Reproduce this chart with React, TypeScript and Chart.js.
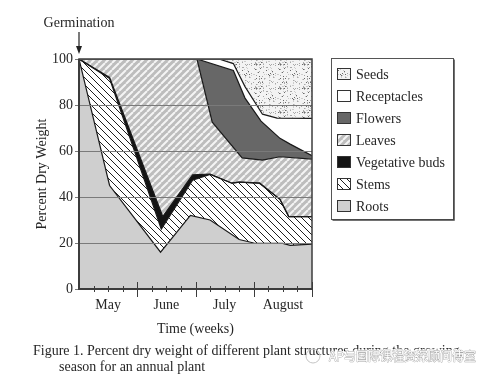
import React, { useEffect, useRef } from 'react';
import { Chart, registerables } from 'chart.js';

Chart.register(...registerables);

// ---- data ----
const monthLabels = ['May', 'June', 'July', 'August'];
const monthTickWeeks = [2, 6, 10, 14];
const yTickStep = 20;

const rootsWeeks = [0, 2.1, 5.6, 7.65, 9.0, 11.0, 12.0, 14.0, 14.5, 16];
const rootsTop = [100, 45, 16, 32, 30, 21.5, 20, 19.8, 19, 19.5];

const stemsWeeks = [0, 2.1, 5.65, 7.8, 9.0, 10.5, 11.0, 12.4, 13.8, 14.4, 16];
const stemsTop = [100, 91.5, 26, 47.3, 49.8, 46, 46.5, 46, 39, 31.5, 31.5];

const budsWeeks = [0, 2.1, 5.75, 7.8, 9.0, 10.5, 11.0, 12.4, 13.8, 14.4, 16];
const budsTop = [100, 92, 31.5, 49.6, 50, 46, 46.5, 46, 39, 31.5, 31.5];

const leavesWeeks = [0, 8.1, 9.15, 11.2, 12.6, 13.8, 16];
const leavesTop = [100, 100, 72.5, 57, 56, 57.5, 56.5];

const flowersWeeks = [8.1, 10.6, 11.4, 12.5, 13.8, 14.5, 16];
const flowersTop = [100, 95, 83, 73, 65.5, 63, 58];

const receptaclesWeeks = [8.1, 9.6, 10.6, 11.4, 12.6, 13.6, 16];
const receptaclesTop = [100, 100, 98, 88, 76, 74.3, 74.2];

const seedsWeeks = [9.6, 16];
const seedsTop = [100, 100];

const captionLines = [
  'Figure 1. Percent dry weight of different plant structures during the growing',
  'season for an annual plant',
];
const watermark = 'AP与国际课程资深顾问傅室';

const SERIF = "'Liberation Serif', 'Times New Roman', 'DejaVu Serif', serif";
const TEXT = '#262626';

function xy(ws: number[], vs: number[]) {
  return ws.map((w, i) => ({ x: w, y: vs[i] }));
}

function hatch(bg: string, fg: string, dir: string, size: number, lw: number) {
  const c = document.createElement('canvas');
  c.width = size;
  c.height = size;
  const g = c.getContext('2d')!;
  g.fillStyle = bg;
  g.fillRect(0, 0, size, size);
  g.strokeStyle = fg;
  g.lineWidth = lw;
  g.beginPath();
  for (const o of [-size, 0, size]) {
    if (dir === '/') {
      g.moveTo(o, size);
      g.lineTo(o + size, 0);
    } else {
      g.moveTo(o, 0);
      g.lineTo(o + size, size);
    }
  }
  g.stroke();
  return g.createPattern(c, 'repeat')!;
}

function stipple() {
  const size = 24;
  const c = document.createElement('canvas');
  c.width = size;
  c.height = size;
  const g = c.getContext('2d')!;
  g.fillStyle = '#f3f3f3';
  g.fillRect(0, 0, size, size);
  let s = 12345;
  const next = () => {
    s = (s * 1103515245 + 12345) % 2147483648;
    return s / 2147483648;
  };
  for (let i = 0; i < 110; i++) {
    const px = Math.floor(next() * size);
    const py = Math.floor(next() * size);
    const r = next();
    g.fillStyle = r < 0.25 ? '#6a6a6a' : r < 0.6 ? '#a8a8a8' : '#cccccc';
    g.fillRect(px, py, 1, 1);
  }
  return g.createPattern(c, 'repeat')!;
}

const decor = {
  id: 'decor',
  afterDraw(chart: any) {
    const { ctx, chartArea } = chart;
    const { left, top, right, bottom } = chartArea;
    const xs = chart.scales.x;
    ctx.save();

    // frame
    ctx.strokeStyle = '#3c3c3c';
    ctx.lineWidth = 1.5;
    ctx.strokeRect(left, top, right - left, bottom - top);
    ctx.lineWidth = 2;
    ctx.beginPath();
    ctx.moveTo(left, top);
    ctx.lineTo(left, bottom);
    ctx.lineTo(right, bottom);
    ctx.stroke();

    // week ticks
    ctx.lineWidth = 1;
    ctx.strokeStyle = '#3c3c3c';
    for (let w = 1; w <= 16; w++) {
      const x = Math.round(xs.getPixelForValue(w)) + 0.5;
      const major = w % 4 === 0;
      ctx.beginPath();
      ctx.moveTo(x, bottom - (major ? 7 : 3));
      ctx.lineTo(x, bottom + (major ? 8 : 3));
      ctx.stroke();
    }

    // Germination label + arrow
    const gx = xs.getPixelForValue(0);
    ctx.fillStyle = TEXT;
    ctx.font = `14px ${SERIF}`;
    ctx.textAlign = 'center';
    ctx.textBaseline = 'middle';
    ctx.fillText('Germination', gx, 23);
    ctx.strokeStyle = '#222';
    ctx.lineWidth = 1.2;
    ctx.beginPath();
    ctx.moveTo(gx, 32);
    ctx.lineTo(gx, 48);
    ctx.stroke();
    ctx.fillStyle = '#222';
    ctx.beginPath();
    ctx.moveTo(gx - 3, 46);
    ctx.lineTo(gx + 3, 46);
    ctx.lineTo(gx, 54);
    ctx.closePath();
    ctx.fill();

    // legend
    const bx = 331.5, by = 58.5, bw = 122, bh = 161;
    ctx.fillStyle = '#fff';
    ctx.fillRect(bx, by, bw, bh);
    ctx.strokeStyle = '#555';
    ctx.lineWidth = 1;
    ctx.strokeRect(bx, by, bw, bh);
    ctx.strokeStyle = '#444';
    ctx.lineWidth = 1.5;
    ctx.beginPath();
    ctx.moveTo(bx + bw + 0.5, by + 1);
    ctx.lineTo(bx + bw + 0.5, by + bh + 0.5);
    ctx.lineTo(bx + 1, by + bh + 0.5);
    ctx.stroke();
    const ds = chart.data.datasets.slice().reverse();
    ds.forEach((d: any, i: number) => {
      const cy = 74 + i * 22;
      ctx.fillStyle = d.backgroundColor;
      ctx.fillRect(337, cy - 6, 14, 12);
      ctx.strokeStyle = '#333';
      ctx.lineWidth = 1;
      ctx.strokeRect(337.5, cy - 5.5, 13, 11);
      ctx.fillStyle = TEXT;
      ctx.font = `14px ${SERIF}`;
      ctx.textAlign = 'left';
      ctx.textBaseline = 'middle';
      ctx.fillText(d.label, 356, cy + 1);
    });

    // caption
    ctx.fillStyle = TEXT;
    ctx.font = `14px ${SERIF}`;
    ctx.textAlign = 'left';
    ctx.textBaseline = 'middle';
    ctx.fillText(captionLines[0], 33, 351);
    ctx.fillText(captionLines[1], 59, 367);

    // watermark
    ctx.strokeStyle = '#c4c4c4';
    ctx.lineWidth = 1;
    ctx.beginPath();
    ctx.arc(313, 356, 7, 0, Math.PI * 2);
    ctx.stroke();
    ctx.font = `12px 'Noto Sans CJK SC', sans-serif`;
    ctx.textBaseline = 'middle';
    ctx.lineJoin = 'round';
    ctx.strokeStyle = 'rgba(255,255,255,0.9)';
    ctx.lineWidth = 3;
    ctx.strokeText(watermark, 329, 356);
    ctx.strokeStyle = '#a6a6a6';
    ctx.lineWidth = 0.8;
    ctx.strokeText(watermark, 329, 356);
    ctx.fillStyle = '#ffffff';
    ctx.fillText(watermark, 329, 356);

    ctx.restore();
  },
};

export default function App() {
  const ref = useRef<HTMLCanvasElement>(null);

  useEffect(() => {
    const canvas = ref.current!;
    const line = { borderColor: '#1a1a1a', borderWidth: 1.2, pointRadius: 0, tension: 0 };
    const font = { family: SERIF, size: 14 };
    const chart = new Chart(canvas, {
      type: 'line',
      data: {
        datasets: [
          { label: 'Roots', data: xy(rootsWeeks, rootsTop), fill: 'origin', backgroundColor: '#cfcfcf', ...line },
          { label: 'Stems', data: xy(stemsWeeks, stemsTop), fill: '-1', backgroundColor: hatch('#ffffff', '#1e1e1e', '\\', 7, 1), ...line },
          { label: 'Vegetative buds', data: xy(budsWeeks, budsTop), fill: '-1', backgroundColor: '#141414', ...line },
          { label: 'Leaves', data: xy(leavesWeeks, leavesTop), fill: '-1', backgroundColor: hatch('#bdbdbd', '#f4f4f4', '/', 7, 2), ...line },
          { label: 'Flowers', data: xy(flowersWeeks, flowersTop), fill: '-1', backgroundColor: '#676767', ...line },
          { label: 'Receptacles', data: xy(receptaclesWeeks, receptaclesTop), fill: '-1', backgroundColor: '#ffffff', ...line },
          { label: 'Seeds', data: xy(seedsWeeks, seedsTop), fill: '-1', backgroundColor: stipple(), ...line },
        ],
      },
      options: {
        animation: false,
        responsive: false,
        maintainAspectRatio: false,
        layout: { padding: { top: 59, right: 178, bottom: 0, left: 0 } },
        plugins: {
          legend: { display: false },
          tooltip: { enabled: false },
          filler: { drawTime: 'beforeDatasetsDraw' },
        } as any,
        scales: {
          x: {
            type: 'linear',
            min: 0,
            max: 16,
            afterFit: (s: any) => { s.height = 93; },
            afterBuildTicks: (s: any) => { s.ticks = monthTickWeeks.map((v) => ({ value: v })); },
            grid: { display: false, drawTicks: false },
            border: { display: false },
            ticks: {
              autoSkip: false,
              maxRotation: 0,
              padding: 8,
              color: TEXT,
              font,
              callback: (v: any) => monthLabels[monthTickWeeks.indexOf(Number(v))],
            },
            title: { display: true, text: 'Time (weeks)', color: TEXT, font, padding: { top: 0, bottom: 44.6 } },
          },
          y: {
            min: 0,
            max: 100,
            afterFit: (s: any) => { s.width = 79; },
            grid: { color: '#7a7a7a', lineWidth: 1, z: 1, tickLength: 4, drawTicks: true },
            border: { display: false },
            ticks: { stepSize: yTickStep, padding: 2, color: TEXT, font },
            title: { display: true, text: 'Percent Dry Weight', color: TEXT, font, padding: { top: 33.6, bottom: 0 } },
          },
        } as any,
      },
      plugins: [decor],
    });
    return () => chart.destroy();
  }, []);

  return (
    <div style={{ position: 'fixed', left: 0, top: 0, width: 490, height: 382, background: '#fff' }}>
      <canvas ref={ref} width={490} height={382} style={{ display: 'block', width: 490, height: 382 }} />
    </div>
  );
}
